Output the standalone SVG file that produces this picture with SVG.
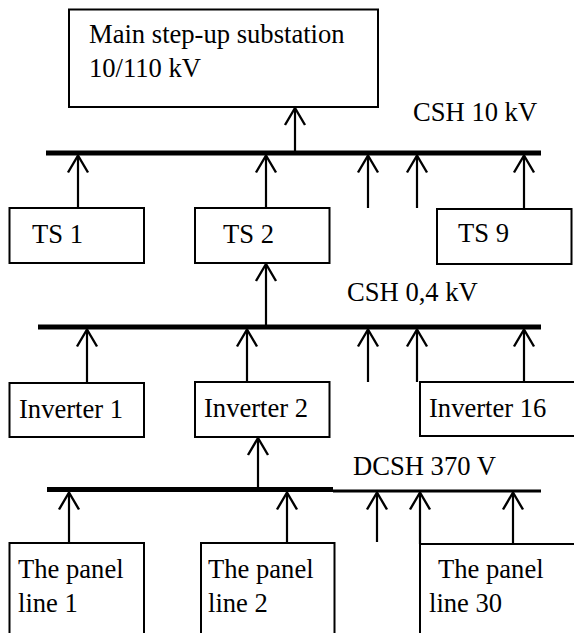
<svg xmlns="http://www.w3.org/2000/svg" width="574" height="633" viewBox="0 0 574 633">
<style>
.box{fill:#fff;stroke:#000;stroke-width:2}
text{font-family:'Liberation Serif','Times New Roman','DejaVu Serif',serif;font-size:26.6px;fill:#000}
.ln{stroke:#000;stroke-width:2.2;fill:none}
.bus{stroke:#000;stroke-width:5;fill:none}
</style>
<defs>
<marker id="arr" viewBox="-20 -12 24 24" refX="0" refY="0" markerWidth="24" markerHeight="24" markerUnits="userSpaceOnUse" orient="auto">
<path d="M-17,-10 L0,0 L-17,10" fill="none" stroke="#000" stroke-width="2.4"/>
</marker>
</defs>
<rect width="574" height="633" fill="#fff"/>
<g id="main">
<rect class="box" x="69" y="9.5" width="309" height="97.5"/>
<text x="89" y="43">Main step-up substation</text>
<text x="89" y="77">10/110 kV</text>
</g>
<g id="labels">
<text x="413" y="121">CSH 10 kV</text>
<text x="347" y="301">CSH 0,4 kV</text>
<text x="353" y="475">DCSH 370 V</text>
</g>
<g id="ts1"><rect class="box" x="9.5" y="208" width="134.5" height="55"/><text x="32" y="243">TS 1</text></g>
<g id="ts2"><rect class="box" x="195" y="208" width="134.5" height="55"/><text x="223" y="243">TS 2</text></g>
<g id="ts9"><rect class="box" x="437" y="209" width="134.5" height="55"/><text x="458" y="242">TS 9</text></g>
<g id="inv1"><rect class="box" x="9.5" y="383" width="134.5" height="54"/><text x="19" y="418">Inverter 1</text></g>
<g id="inv2"><rect class="box" x="195" y="382" width="134.5" height="55"/><text x="204" y="417">Inverter 2</text></g>
<g id="inv16"><rect class="box" x="420" y="382" width="160" height="54"/><text x="429" y="417">Inverter 16</text></g>
<g id="pl1"><rect class="box" x="9.5" y="543" width="134.5" height="95"/><text x="18" y="578">The panel</text><text x="18" y="612">line 1</text></g>
<g id="pl2"><rect class="box" x="201" y="543" width="133.5" height="95"/><text x="208" y="578">The panel</text><text x="208" y="612">line 2</text></g>
<g id="pl30"><rect class="box" x="420" y="544" width="160" height="95"/><text x="438" y="578">The panel</text><text x="429" y="612">line 30</text></g>
<g id="connectors">
<line class="bus" x1="46" y1="153" x2="541" y2="153"/>
<line class="bus" x1="38" y1="327" x2="541" y2="327"/>
<line class="bus" x1="47" y1="489.5" x2="333" y2="489.5"/>
<line x1="333" y1="491" x2="541" y2="491" stroke="#000" stroke-width="3"/>
<line class="ln" x1="295" y1="151" x2="295" y2="108" marker-end="url(#arr)"/>
<line class="ln" x1="78" y1="208" x2="78" y2="155.5" marker-end="url(#arr)"/>
<line class="ln" x1="266" y1="208" x2="266" y2="155.5" marker-end="url(#arr)"/>
<line class="ln" x1="368" y1="208" x2="368" y2="155.5" marker-end="url(#arr)"/>
<line class="ln" x1="417" y1="208" x2="417" y2="155.5" marker-end="url(#arr)"/>
<line class="ln" x1="524" y1="209" x2="524" y2="155.5" marker-end="url(#arr)"/>
<line class="ln" x1="266" y1="325" x2="266" y2="264" marker-end="url(#arr)"/>
<line class="ln" x1="87" y1="382" x2="87" y2="329.5" marker-end="url(#arr)"/>
<line class="ln" x1="247" y1="382" x2="247" y2="329.5" marker-end="url(#arr)"/>
<line class="ln" x1="368" y1="382" x2="368" y2="329.5" marker-end="url(#arr)"/>
<line class="ln" x1="417" y1="382" x2="417" y2="329.5" marker-end="url(#arr)"/>
<line class="ln" x1="524" y1="382" x2="524" y2="329.5" marker-end="url(#arr)"/>
<line class="ln" x1="258" y1="487" x2="258" y2="438" marker-end="url(#arr)"/>
<line class="ln" x1="69" y1="543" x2="69" y2="492.5" marker-end="url(#arr)"/>
<line class="ln" x1="287" y1="543" x2="287" y2="492.5" marker-end="url(#arr)"/>
<line class="ln" x1="377" y1="542" x2="377" y2="492.5" marker-end="url(#arr)"/>
<line class="ln" x1="420" y1="544" x2="420" y2="492.5" marker-end="url(#arr)"/>
<line class="ln" x1="513" y1="544" x2="513" y2="492.5" marker-end="url(#arr)"/>
</g>
</svg>
